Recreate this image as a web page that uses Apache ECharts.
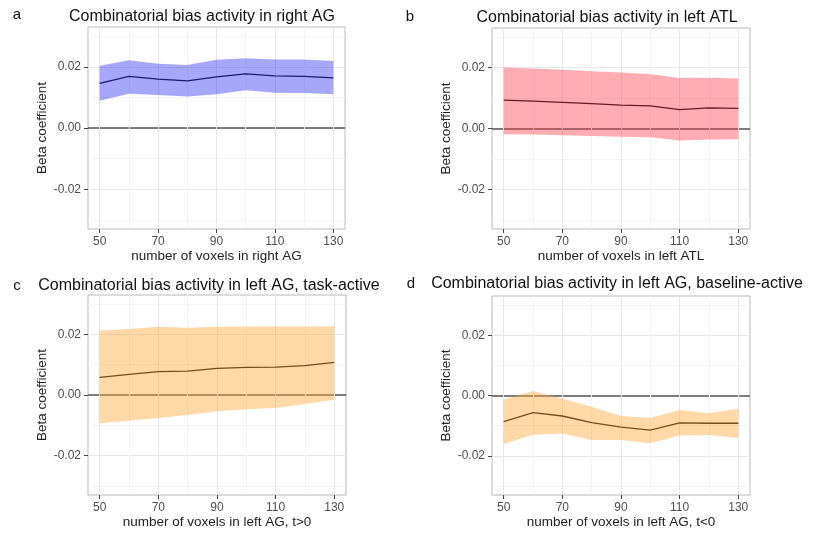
<!DOCTYPE html>
<html><head><meta charset="utf-8">
<script src="https://cdn.jsdelivr.net/npm/echarts@6/dist/echarts.min.js"></script>
<style>html,body{margin:0;padding:0;background:#fff}#c{width:815px;height:533px}</style>
</head><body><div id="c"></div>
<script>
// ---- data ----
const voxels = [50, 60, 70, 80, 90, 100, 110, 120, 130];
const xTicks = [50, 70, 90, 110, 130];
const xMinor = [60, 80, 100, 120];
const yTicks = [-0.02, 0, 0.02];
const yMinor = [-0.03, -0.01, 0.01, 0.03];
const refLine = [0];

const aMean  = [0.0146, 0.0169, 0.0160, 0.0154, 0.0167, 0.0177, 0.0170, 0.0169, 0.0164];
const aUpper = [0.0203, 0.0221, 0.0210, 0.0206, 0.0223, 0.0228, 0.0224, 0.0224, 0.0219];
const aLower = [0.0089, 0.0112, 0.0108, 0.0103, 0.0110, 0.0123, 0.0115, 0.0114, 0.0110];

const bMean  = [0.0093, 0.0090, 0.0086, 0.0082, 0.0077, 0.0074, 0.0062, 0.0068, 0.0066];
const bUpper = [0.0200, 0.0197, 0.0193, 0.0188, 0.0184, 0.0178, 0.0166, 0.0167, 0.0164];
const bLower = [-0.0019, -0.0020, -0.0022, -0.0025, -0.0027, -0.0029, -0.0039, -0.0036, -0.0035];

const cMean  = [0.0058, 0.0068, 0.0077, 0.0079, 0.0088, 0.0091, 0.0092, 0.0097, 0.0108];
const cUpper = [0.0213, 0.0218, 0.0225, 0.0222, 0.0225, 0.0226, 0.0226, 0.0226, 0.0227];
const cLower = [-0.0093, -0.0085, -0.0076, -0.0066, -0.0054, -0.0047, -0.0043, -0.0030, -0.0016];

const dMean  = [-0.0087, -0.0057, -0.0068, -0.0090, -0.0105, -0.0115, -0.0091, -0.0092, -0.0092];
const dUpper = [-0.0013, 0.0015, -0.0011, -0.0037, -0.0068, -0.0074, -0.0048, -0.0059, -0.0044];
const dLower = [-0.0161, -0.0130, -0.0126, -0.0148, -0.0148, -0.0158, -0.0133, -0.0131, -0.0141];

const titles = [
  'Combinatorial bias activity in right AG',
  'Combinatorial bias activity in left ATL',
  'Combinatorial bias activity in left AG, task-active',
  'Combinatorial bias activity in left AG, baseline-active'
];
const xLabels = [
  'number of voxels in right AG',
  'number of voxels in left ATL',
  'number of voxels in left AG, t>0',
  'number of voxels in left AG, t<0'
];
const letters = ['a', 'b', 'c', 'd'];
const yLabel = 'Beta coefficient';

// ---- layout / style ----
const FONT = '"Liberation Sans", Arial, Helvetica, sans-serif';
const panels = [
  {mean: aMean, upper: aUpper, lower: aLower, fill: 'rgba(60,60,245,0.45)',
   grid: {left: 88, top: 27, width: 257, height: 202}, tx: 202, ty: 17, lx: 17, ly: 15},
  {mean: bMean, upper: bUpper, lower: bLower, fill: 'rgba(255,60,75,0.42)',
   grid: {left: 492, top: 28, width: 258, height: 201}, tx: 607, ty: 18, lx: 410, ly: 17},
  {mean: cMean, upper: cUpper, lower: cLower, fill: 'rgba(250,170,60,0.45)',
   grid: {left: 88, top: 295, width: 258, height: 200}, tx: 209, ty: 286, lx: 17, ly: 286},
  {mean: dMean, upper: dUpper, lower: dLower, fill: 'rgba(250,170,60,0.45)',
   grid: {left: 492, top: 296, width: 258, height: 199}, tx: 617, ty: 284, lx: 411, ly: 284}
];

function ribbonRenderer(fill) {
  return function (params, api) {
    if (params.dataIndexInside !== 0) return null;
    const n = params.dataInsideLength;
    const top = [], bot = [];
    for (let j = 0; j < n; j++) {
      const x = api.value(0, j);
      top.push(api.coord([x, api.value(2, j)]));
      bot.push(api.coord([x, api.value(1, j)]));
    }
    const pts = top.concat(bot.reverse());
    return {type: 'polygon', shape: {points: pts}, style: {fill: fill}, silent: true};
  };
}

const grid = [], xAxis = [], yAxis = [], series = [], graphic = [];
panels.forEach((p, k) => {
  grid.push(Object.assign({show: true, borderColor: '#b8b8b8', borderWidth: 1, backgroundColor: '#fff'}, p.grid));
  xAxis.push({
    type: 'value', gridIndex: k, min: 46, max: 134,
    name: xLabels[k], nameLocation: 'middle', nameGap: 19,
    nameTextStyle: {fontFamily: FONT, fontSize: 13.5, color: '#222'},
    axisLine: {show: false, onZero: false},
    axisTick: {show: true, length: 4, lineStyle: {color: '#444'}, customValues: xTicks},
    axisLabel: {fontFamily: FONT, fontSize: 12, color: '#4d4d4d', margin: 7, customValues: xTicks},
    splitLine: {show: true, lineStyle: {color: '#e6e6e6', width: 1}}
  });
  xAxis.push({
    type: 'value', gridIndex: k, min: 46, max: 134, position: 'bottom',
    axisLine: {show: false, onZero: false},
    axisTick: {show: false, customValues: xMinor},
    axisLabel: {show: false, customValues: xMinor},
    splitLine: {show: true, lineStyle: {color: '#f3f3f3', width: 1}}
  });
  yAxis.push({
    type: 'value', gridIndex: k, min: -0.033, max: 0.033,
    name: yLabel, nameLocation: 'middle', nameGap: 38,
    nameTextStyle: {fontFamily: FONT, fontSize: 13.5, color: '#222'},
    axisLine: {show: false, onZero: false},
    axisTick: {show: true, length: 4, lineStyle: {color: '#444'}, customValues: yTicks},
    axisLabel: {fontFamily: FONT, fontSize: 12, color: '#4d4d4d', margin: 7,
      customValues: yTicks, formatter: v => v.toFixed(2)},
    splitLine: {show: true, lineStyle: {color: '#e6e6e6', width: 1}}
  });
  yAxis.push({
    type: 'value', gridIndex: k, min: -0.033, max: 0.033, position: 'left',
    axisLine: {show: false, onZero: false},
    axisTick: {show: false, customValues: yMinor},
    axisLabel: {show: false, customValues: yMinor},
    splitLine: {show: true, lineStyle: {color: '#f3f3f3', width: 1}}
  });
  const xi = 2 * k, yi = 2 * k;
  series.push({
    type: 'line', xAxisIndex: xi, yAxisIndex: yi, z: 2, symbol: 'none', silent: true,
    data: voxels.map((v, i) => [v, p.mean[i]]),
    lineStyle: {color: '#000', width: 1.3}
  });
  series.push({
    type: 'custom', xAxisIndex: xi, yAxisIndex: yi, z: 8, silent: true,
    data: voxels.map((v, i) => [v, p.lower[i], p.upper[i]]),
    encode: {x: 0, y: [1, 2]},
    renderItem: ribbonRenderer(p.fill)
  });
  graphic.push({type: 'text', x: p.tx, y: p.ty, silent: true,
    style: {text: titles[k], fontFamily: FONT, fontSize: 16, fill: '#111', align: 'center', verticalAlign: 'middle'}});
  graphic.push({type: 'text', x: p.lx, y: p.ly, silent: true,
    style: {text: letters[k], fontFamily: FONT, fontSize: 15, fill: '#111', align: 'center', verticalAlign: 'middle'}});
});
// zero reference lines (drawn as split lines, beneath the series)
panels.forEach((p, k) => {
  yAxis.push({
    type: 'value', gridIndex: k, min: -0.033, max: 0.033, position: 'left',
    axisLine: {show: false, onZero: false},
    axisTick: {show: false, customValues: refLine},
    axisLabel: {show: false, customValues: refLine},
    splitLine: {show: true, lineStyle: {color: '#555', width: 1.6}}
  });
});

const chart = echarts.init(document.getElementById('c'), null, {renderer: 'canvas'});
chart.setOption({animation: false, backgroundColor: '#fff', grid, xAxis, yAxis, series, graphic});
</script>
</body></html>
